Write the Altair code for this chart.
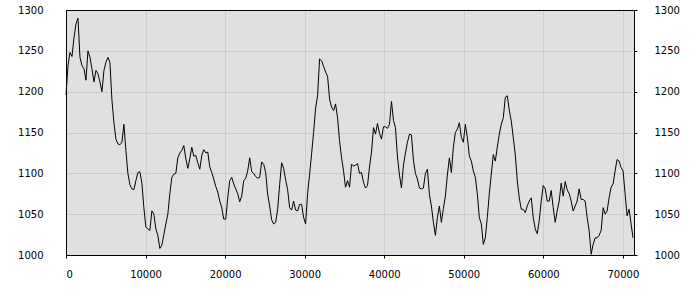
import altair as alt
import pandas as pd

# series values, one every 251 units of x
seg1 = [1196, 1232, 1248, 1243, 1266, 1283, 1290, 1242, 1232, 1228, 1214, 1250,
        1242, 1228, 1212, 1226, 1222, 1212, 1200, 1226, 1236, 1242, 1236, 1190,
        1162, 1142, 1136, 1135, 1138, 1160, 1128, 1100, 1086, 1081, 1080, 1091,
        1101, 1102, 1088, 1058, 1034, 1032, 1030, 1054, 1050, 1032, 1024, 1008]
seg2 = [1012, 1025, 1038, 1050, 1075, 1095, 1099, 1100, 1119, 1125, 1128, 1134,
        1118, 1106, 1118, 1132, 1121, 1122, 1113, 1105, 1122, 1129, 1125, 1126,
        1108, 1101, 1093, 1084, 1077, 1066, 1058, 1044, 1044, 1070, 1091, 1095,
        1087, 1081, 1075, 1065, 1072, 1091, 1094, 1103, 1119, 1102, 1100, 1096]
seg3 = [1094, 1095, 1114, 1111, 1101, 1074, 1060, 1043, 1038, 1040, 1056, 1086,
        1113, 1106, 1092, 1080, 1058, 1055, 1066, 1055, 1054, 1062, 1062, 1046,
        1038, 1075, 1099, 1124, 1150, 1180, 1195, 1240, 1238, 1231, 1224, 1219,
        1191, 1181, 1177, 1185, 1168, 1140, 1119, 1103, 1083, 1091, 1083, 1111]
seg4 = [1109, 1110, 1112, 1100, 1101, 1089, 1082, 1085, 1108, 1126, 1156, 1148,
        1161, 1149, 1142, 1157, 1157, 1155, 1160, 1188, 1165, 1156, 1120, 1098,
        1082, 1110, 1125, 1138, 1148, 1147, 1116, 1100, 1093, 1082, 1081, 1082,
        1100, 1105, 1074, 1060, 1040, 1024, 1046, 1060, 1040, 1057, 1072, 1098]
seg5 = [1119, 1101, 1132, 1150, 1154, 1162, 1144, 1138, 1160, 1144, 1121, 1115,
        1103, 1095, 1075, 1046, 1038, 1013, 1021, 1046, 1075, 1099, 1123, 1115,
        1132, 1148, 1160, 1168, 1193, 1195, 1177, 1164, 1144, 1123, 1091, 1070,
        1056, 1056, 1052, 1060, 1066, 1070, 1046, 1032, 1026, 1042, 1066, 1085]
seg6 = [1081, 1066, 1066, 1079, 1058, 1040, 1054, 1066, 1088, 1072, 1090, 1080,
        1075, 1066, 1054, 1060, 1066, 1081, 1068, 1068, 1066, 1046, 1030, 1001,
        1013, 1021, 1021, 1024, 1030, 1058, 1050, 1054, 1070, 1083, 1087, 1103,
        1117, 1115, 1107, 1103, 1075, 1048, 1056, 1038, 1021]

x_step = 251
x_ticks = [0, 10000, 20000, 30000, 40000, 50000, 60000, 70000]
y_ticks = [1000, 1050, 1100, 1150, 1200, 1250, 1300]

values = seg1 + seg2 + seg3 + seg4 + seg5 + seg6
df = pd.DataFrame({"x": [i * x_step for i in range(len(values))], "y": values})

FONT = "DejaVu Sans"
FS = 10
GRID = "#cccccc"

xscale = alt.Scale(domain=[0, 71400], nice=False, zero=False)
yscale = alt.Scale(domain=[1000, 1300], nice=False, zero=False)

xaxis = alt.Axis(values=x_ticks, format="d", title=None, grid=True,
                 gridColor=GRID, gridWidth=1, domainColor="black",
                 tickColor="black", tickSize=3, labelPadding=11,
                 labelFont=FONT, labelFontSize=FS, labelColor="black")

xaxis_top = alt.Axis(orient="top", values=x_ticks, title=None, grid=False,
                     ticks=False, labels=False, domainColor="black")

left = alt.Chart(df).mark_line(color="black", strokeWidth=1).encode(
    x=alt.X("x:Q", scale=xscale, axis=xaxis),
    y=alt.Y("y:Q", scale=yscale,
            axis=alt.Axis(orient="left", values=y_ticks, format="d", title=None,
                          grid=True, gridColor=GRID, gridWidth=1,
                          domainColor="black", ticks=False, labelPadding=23,
                          labelFont=FONT, labelFontSize=FS, labelColor="black"))
)

right = alt.Chart(df).mark_line(color="black", strokeWidth=1, strokeOpacity=0).encode(
    x=alt.X("x:Q", scale=xscale, axis=xaxis_top),
    y=alt.Y("y:Q", scale=yscale,
            axis=alt.Axis(orient="right", values=y_ticks, format="d", title=None,
                          grid=False, domainColor="black", tickColor="black",
                          tickSize=3, labelPadding=17, labelAlign="left",
                          labelFont=FONT, labelFontSize=FS, labelColor="black"))
)

chart = (
    alt.layer(left, right)
    .resolve_axis(x="independent", y="independent")
    .properties(width=568, height=245, autosize="none", background="white",
                padding={"left": 66, "top": 10, "right": 66, "bottom": 45})
    .configure_view(fill="#e0e0e0", stroke="black", strokeWidth=1)
)

chart.save("out.html", embed_options={"renderer": "svg", "actions": False})
